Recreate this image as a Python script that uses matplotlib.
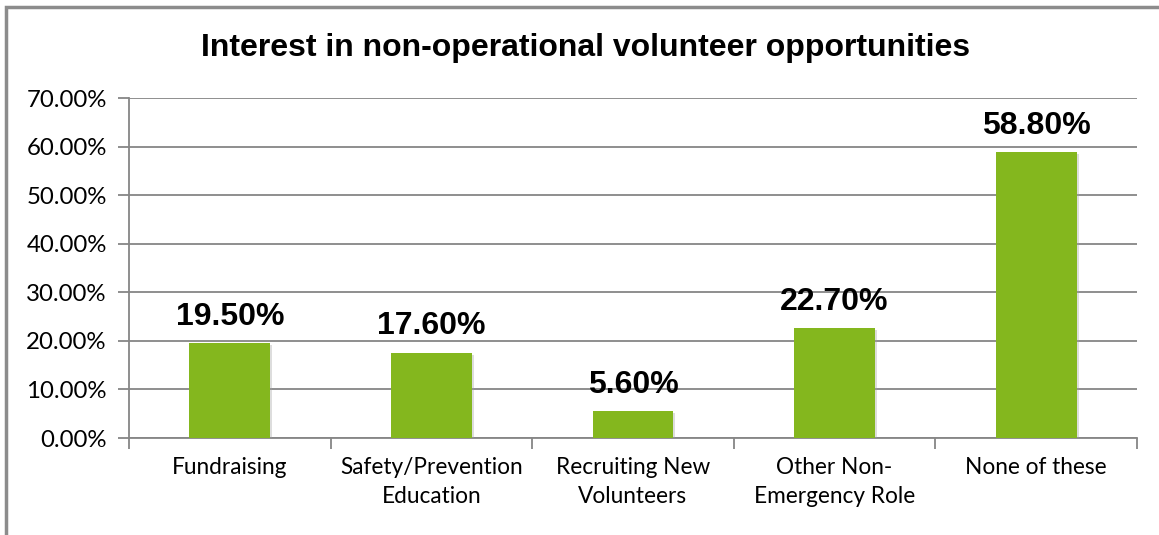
import matplotlib.pyplot as plt
from matplotlib import patches, patheffects
import numpy as np

categories = ['Fundraising', 'Safety/Prevention\nEducation', 'Recruiting New\nVolunteers',
              'Other Non-\nEmergency Role', 'None of these']
values = [19.5, 17.6, 5.6, 22.7, 58.8]
title = 'Interest in non-operational volunteer opportunities'

bar_color = '#84b71e'
grid_color = '#868686'

fig = plt.figure(figsize=(11.59, 5.35), dpi=100)
ax = fig.add_axes([0.1113, 0.1813, 0.8697, 0.6355])

x = np.arange(len(categories))
shadow = [patheffects.SimplePatchShadow(offset=(1.5, -1.5), shadow_rgbFace='#a0a0a0', alpha=0.35),
          patheffects.Normal()]
bars = ax.bar(x, values, width=0.4, color=bar_color, zorder=3)
for b in bars:
    b.set_path_effects(shadow)

for xi, v in zip(x, values):
    ax.text(xi, v + 2.3, f'{v:.2f}%', ha='center', va='bottom',
            fontsize=23, fontweight='bold', family='Liberation Sans', zorder=4)

ax.set_xlim(-0.5, len(categories) - 0.5)
ax.set_ylim(0, 70)
ax.set_yticks(np.arange(0, 71, 10))
ax.set_yticklabels([f'{t:.2f}%' for t in np.arange(0, 71, 10)], family='Lato', fontsize=17.3)
ax.yaxis.grid(True, color=grid_color, linewidth=1.3, zorder=0)
ax.set_axisbelow(True)

# category labels between boundary ticks
ax.set_xticks(x)
ax.set_xticklabels(categories, family='Lato', fontsize=16.3, linespacing=1.45)
ax.tick_params(axis='x', length=0, pad=14)
ax.set_xticks(np.arange(-0.5, len(categories)), minor=True)
ax.tick_params(axis='x', which='minor', length=8, width=1.3, color=grid_color, direction='out')
ax.tick_params(axis='y', length=8, width=1.3, color=grid_color, pad=8)

for s in ['top', 'right']:
    ax.spines[s].set_visible(False)
for s in ['left', 'bottom']:
    ax.spines[s].set_color(grid_color)
    ax.spines[s].set_linewidth(1.3)

fig.text(0.505, 0.91, title, ha='center', va='center', fontsize=23,
         fontweight='bold', family='Liberation Sans')

# chart frame, only its top and left edges fall inside the image
frame = patches.Rectangle((6 / 1159, -0.05), 1.2, (535 - 7) / 535 + 0.05,
                          transform=fig.transFigure, fill=False,
                          edgecolor='#8c8c8c', linewidth=2.5)
fig.patches.append(frame)

fig.savefig('out.png', dpi=100)
